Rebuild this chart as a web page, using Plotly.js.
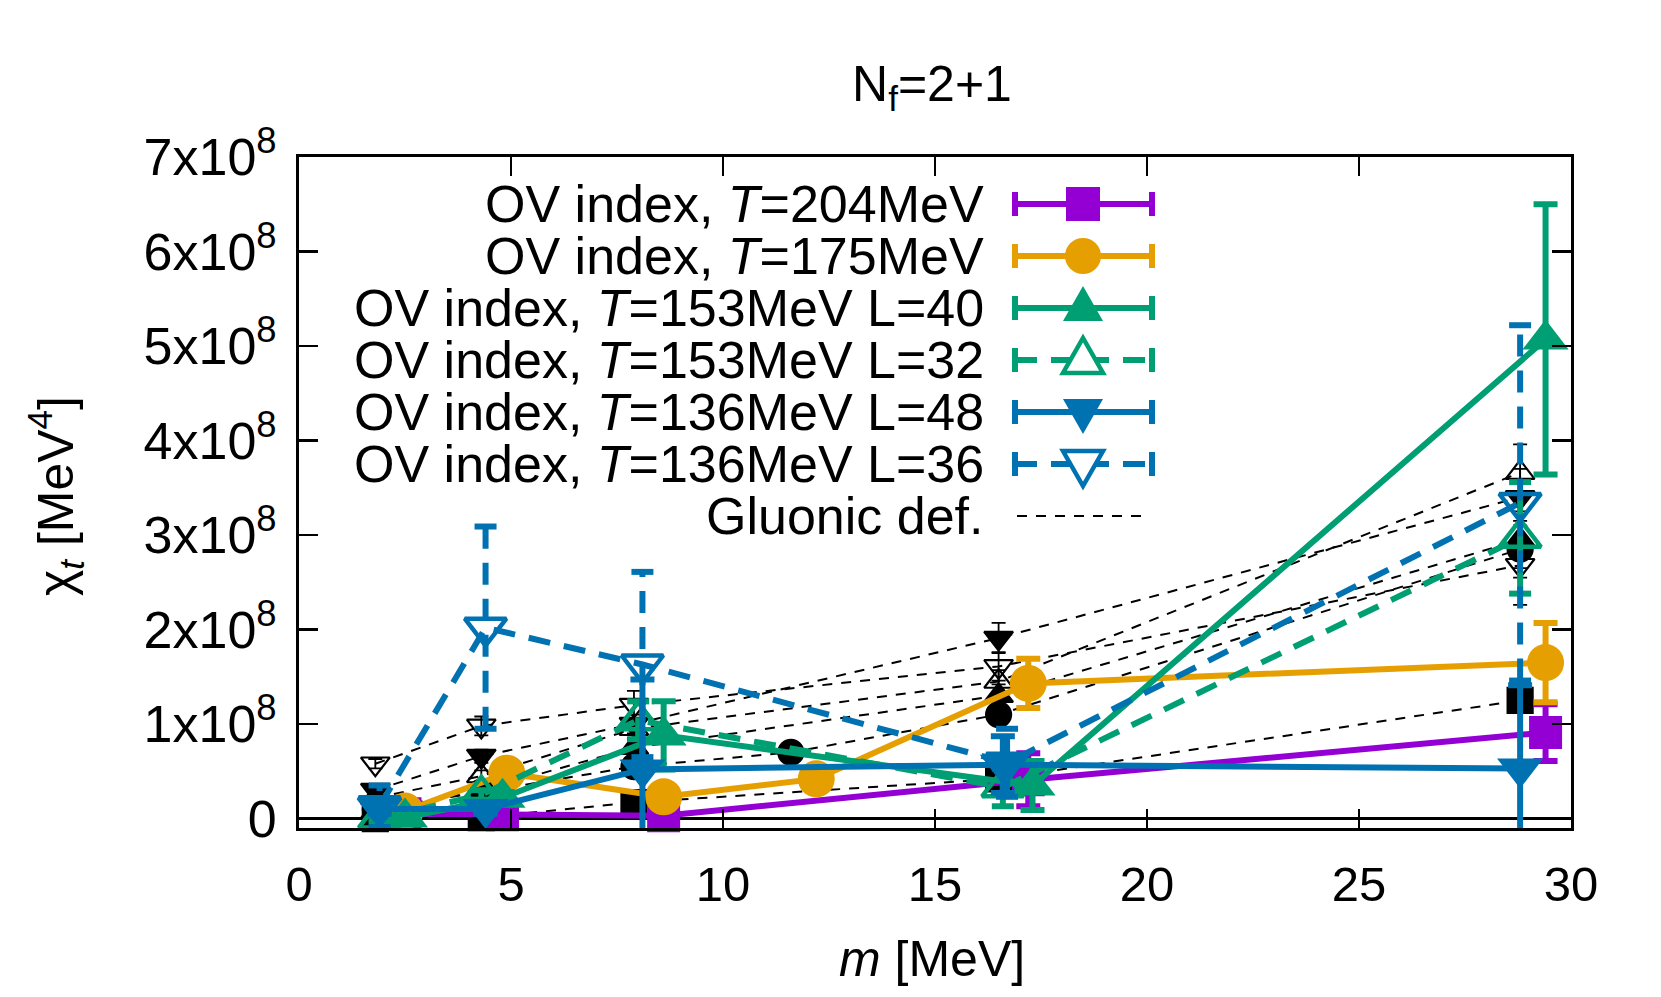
<!DOCTYPE html>
<html><head><meta charset="utf-8">
<script src="https://cdn.plot.ly/plotly-3.0.1.min.js"></script>
<style>html,body{margin:0;padding:0;background:#fff}#chart{width:1661px;height:997px}</style>
</head><body><div id="chart"></div>
<script>
// ---------------- data (chi_t in MeV^4, m in MeV) ----------------
const m204 = [2.5, 4.8, 8.6, 17.2, 29.4];
const chi204 = [0.05e8, 0.04e8, 0.03e8, 0.41e8, 0.91e8];
const err204 = [0.04e8, 0.03e8, 0.04e8, 0.28e8, 0.30e8];

const m175 = [2.5, 4.9, 8.6, 12.2, 17.2, 29.4];
const chi175 = [0.08e8, 0.48e8, 0.23e8, 0.42e8, 1.43e8, 1.65e8];
const err175 = [0.04e8, 0.07e8, 0.05e8, 0.05e8, 0.26e8, 0.42e8];

const m153L40 = [2.5, 4.8, 8.6, 17.3, 29.4];
const chi153L40 = [0.01e8, 0.22e8, 0.88e8, 0.35e8, 5.07e8];
const err153L40 = [0.03e8, 0.06e8, 0.36e8, 0.26e8, 1.43e8];

const m153L32 = [1.9, 4.3, 8.0, 16.6, 28.8];
const chi153L32 = [0.00e8, 0.25e8, 1.04e8, 0.33e8, 2.97e8];
const err153L32 = [0.03e8, 0.05e8, 0.20e8, 0.20e8, 0.59e8];

const m136L48 = [1.9, 4.4, 8.1, 16.6, 28.8];
const chi136L48 = [0.10e8, 0.10e8, 0.52e8, 0.57e8, 0.53e8];
const err136L48 = [0.05e8, 0.05e8, 0.95e8, 0.30e8, 0.88e8];

const m136L36 = [1.9, 4.4, 8.1, 16.7, 28.8];
const chi136L36 = [0.13e8, 2.02e8, 1.63e8, 0.59e8, 3.34e8];
const err136L36 = [0.22e8, 1.07e8, 0.98e8, 0.36e8, 1.88e8];

// gluonic definition
const mGlu = [1.8, 4.3, 7.9, 16.5, 28.8];
const mGlu175 = [1.8, 4.3, 7.9, 11.6, 16.5, 28.8];
const glu204 = [0.00e8, 0.01e8, 0.17e8, 0.42e8, 1.25e8];
const gluErr204 = [0.01e8, 0.02e8, 0.04e8, 0.08e8, 0.12e8];
const glu175 = [0.10e8, 0.28e8, 0.55e8, 0.70e8, 1.10e8, 2.85e8];
const gluErr175 = [0.02e8, 0.04e8, 0.06e8, 0.07e8, 0.10e8, 0.30e8];
const glu153L40 = [0.07e8, 0.30e8, 0.75e8, 1.30e8, 2.95e8];
const gluErr153L40 = [0.02e8, 0.04e8, 0.08e8, 0.12e8, 0.30e8];
const glu153L32 = [0.22e8, 0.45e8, 0.95e8, 1.45e8, 3.66e8];
const gluErr153L32 = [0.03e8, 0.06e8, 0.10e8, 0.12e8, 0.30e8];
const glu136L48 = [0.30e8, 0.66e8, 1.00e8, 1.91e8, 3.40e8];
const gluErr136L48 = [0.03e8, 0.07e8, 0.10e8, 0.16e8, 0.30e8];
const glu136L36 = [0.58e8, 0.98e8, 1.20e8, 1.61e8, 2.68e8];
const gluErr136L36 = [0.05e8, 0.10e8, 0.15e8, 0.15e8, 0.42e8];

const xTicks = [0, 5, 10, 15, 20, 25, 30];
const yTicks = [0, 1e8, 2e8, 3e8, 4e8, 5e8, 6e8, 7e8];
const yTickText = ['0', '1x10<sup>8</sup>', '2x10<sup>8</sup>', '3x10<sup>8</sup>', '4x10<sup>8</sup>',
                   '5x10<sup>8</sup>', '6x10<sup>8</sup>', '7x10<sup>8</sup>'];
const legendLabels = ['OV index, <i>T</i>=204MeV', 'OV index, <i>T</i>=175MeV',
  'OV index, <i>T</i>=153MeV L=40', 'OV index, <i>T</i>=153MeV L=32',
  'OV index, <i>T</i>=136MeV L=48', 'OV index, <i>T</i>=136MeV L=36', 'Gluonic def.'];

// ---------------- styles ----------------
const FONT = 'Liberation Sans, Arial, Helvetica, sans-serif';
const PURPLE = '#9400d3', ORANGE = '#e69f00', GREEN = '#009e73', BLUE = '#0072b2';
const LW = 6, SERIES_DASH = '22px,14px', GLU_DASH = '10px,9px', CAP = 0.26;

const traces = [];

function gluTrace(x, y, e, sym) {
  return {x: x, y: y, type: 'scatter', mode: 'lines+markers', showlegend: false, cliponaxis: false,
    line: {color: 'black', width: 2, dash: GLU_DASH},
    marker: {symbol: sym, size: 25, color: 'black', line: {color: 'black', width: 2.2}},
    error_y: {type: 'data', array: e, visible: true, color: 'black', thickness: 1.8, width: 7}};
}
traces.push(gluTrace(mGlu, glu204, gluErr204, 'square'));
traces.push(gluTrace(mGlu175, glu175, gluErr175, 'circle'));
traces.push(gluTrace(mGlu, glu153L40, gluErr153L40, 'triangle-up'));
traces.push(gluTrace(mGlu, glu153L32, gluErr153L32, 'triangle-up-open'));
traces.push(gluTrace(mGlu, glu136L48, gluErr136L48, 'triangle-down'));
traces.push(gluTrace(mGlu, glu136L36, gluErr136L36, 'triangle-down-open'));

function solidTrace(x, y, e, color, sym, size, clip) {
  return {x: x, y: y, type: 'scatter', mode: 'lines+markers', showlegend: false, cliponaxis: !!clip,
    line: {color: color, width: LW},
    marker: {symbol: sym, size: size, color: color, line: {width: 0}},
    error_y: {type: 'data', array: e, visible: true, color: color, thickness: LW, width: 12}};
}
function dashedErr(x, y, e, color) {
  const X = [], Y = [];
  x.forEach((xi, i) => {
    const lo = y[i] - e[i], hi = y[i] + e[i];
    X.push(xi, xi, null, xi - CAP, xi + CAP, null, xi - CAP, xi + CAP, null);
    Y.push(lo, hi, null, lo, lo, null, hi, hi, null);
  });
  return {x: X, y: Y, type: 'scatter', mode: 'lines', showlegend: false, cliponaxis: false,
    connectgaps: false, hoverinfo: 'skip', line: {color: color, width: LW, dash: SERIES_DASH}};
}
function dashedTrace(x, y, color, sym) {
  return {x: x, y: y, type: 'scatter', mode: 'lines+markers', showlegend: false, cliponaxis: false,
    line: {color: color, width: LW, dash: SERIES_DASH},
    marker: {symbol: sym, size: 36, color: color, line: {color: color, width: 4.5}}};
}

traces.push(solidTrace(m204, chi204, err204, PURPLE, 'square', 33));
traces.push(solidTrace(m175, chi175, err175, ORANGE, 'circle', 37));
traces.push(solidTrace(m153L40, chi153L40, err153L40, GREEN, 'triangle-up', 40));
traces.push(dashedErr(m153L32, chi153L32, err153L32, GREEN));
traces.push(dashedTrace(m153L32, chi153L32, GREEN, 'triangle-up-open'));
traces.push(solidTrace(m136L48, chi136L48, err136L48, BLUE, 'triangle-down', 40, true));
traces.push(dashedErr(m136L36, chi136L36, err136L36, BLUE));
traces.push(dashedTrace(m136L36, chi136L36, BLUE, 'triangle-down-open'));

// ---------------- custom legend (text right-aligned, symbol on the right) ----------------
const PL = 299, PR = 1571, PT = 157, PB = 828;
const px = p => (p - PL) / (PR - PL);
const py = p => (PB - p) / (PB - PT);
const legStyle = [
  {color: PURPLE, dash: 'solid', sym: 'square'},
  {color: ORANGE, dash: 'solid', sym: 'circle'},
  {color: GREEN, dash: 'solid', sym: 'tri-up'},
  {color: GREEN, dash: SERIES_DASH, sym: 'tri-up-open'},
  {color: BLUE, dash: 'solid', sym: 'tri-down'},
  {color: BLUE, dash: SERIES_DASH, sym: 'tri-down-open'},
  {color: 'black', dash: GLU_DASH, sym: null}
];
const shapes = [], annotations = [];
legendLabels.forEach((lab, i) => {
  const rowY = 204 + 52 * i;
  const st = legStyle[i];
  annotations.push({text: lab, xref: 'paper', yref: 'paper', x: px(986), y: py(rowY),
    xanchor: 'right', yanchor: 'middle', showarrow: false, font: {family: FONT, size: 52, color: 'black'}});
  if (!st.sym) {
    shapes.push({type: 'line', xref: 'paper', yref: 'paper', x0: px(1017), x1: px(1150), y0: py(rowY), y1: py(rowY),
      line: {color: 'black', width: 2, dash: GLU_DASH}});
    return;
  }
  shapes.push({type: 'line', xref: 'paper', yref: 'paper', x0: px(1015), x1: px(1152), y0: py(rowY), y1: py(rowY),
    line: {color: st.color, width: LW, dash: st.dash}});
  [1015, 1152].forEach(cx => shapes.push({type: 'line', xref: 'paper', yref: 'paper',
    x0: px(cx), x1: px(cx), y0: py(rowY - 12), y1: py(rowY + 12), line: {color: st.color, width: LW}}));
  const base = {xref: 'paper', yref: 'paper', xsizemode: 'pixel', ysizemode: 'pixel',
    xanchor: px(1083), yanchor: py(rowY)};
  if (st.sym === 'square') shapes.push(Object.assign({type: 'rect', x0: -17, x1: 17, y0: -17, y1: 17,
    fillcolor: st.color, line: {width: 0}}, base));
  else if (st.sym === 'circle') shapes.push(Object.assign({type: 'circle', x0: -18, x1: 18, y0: -18, y1: 18,
    fillcolor: st.color, line: {width: 0}}, base));
  else {
    const up = st.sym.indexOf('up') >= 0, open = st.sym.indexOf('open') >= 0;
    const path = up ? 'M-20,-13 L20,-13 L0,22 Z' : 'M-20,13 L20,13 L0,-22 Z';
    shapes.push(Object.assign({type: 'path', path: path,
      fillcolor: open ? 'white' : st.color, line: {color: st.color, width: open ? 4.5 : 0}}, base));
  }
});

annotations.push({text: '<i>m</i> [MeV]', xref: 'paper', yref: 'paper', x: px(932), y: py(959),
  xanchor: 'center', yanchor: 'middle', showarrow: false, font: {family: FONT, size: 50, color: 'black'}});
annotations.push({text: 'χ<sub><i>t</i></sub> [MeV<sup>4</sup>]', xref: 'paper', yref: 'paper', x: px(56), y: py(496),
  xanchor: 'center', yanchor: 'middle', textangle: -90, showarrow: false,
  font: {family: FONT, size: 50, color: 'black'}});

const axisCommon = {showgrid: false, showline: true, linecolor: 'black', linewidth: 3, mirror: 'ticks',
  ticks: 'inside', ticklen: 19, tickwidth: 2.5, tickcolor: 'black'};

const layout = {
  width: 1661, height: 997, paper_bgcolor: 'white', plot_bgcolor: 'white',
  margin: {l: PL, r: 1661 - PR, t: PT, b: 997 - PB, pad: 0},
  showlegend: false,
  title: {text: 'N<sub>f</sub>=2+1', x: 932 / 1661, y: 1 - 83 / 997, xanchor: 'center', yanchor: 'middle',
    font: {family: FONT, size: 50, color: 'black'}},
  xaxis: Object.assign({}, axisCommon, {range: [0, 30], tickvals: xTicks, zeroline: false, ticklabelstandoff: 11,
    tickfont: {family: FONT, size: 49, color: 'black'}}),
  yaxis: Object.assign({}, axisCommon, {range: [-0.1e8, 7e8], tickvals: yTicks, ticktext: yTickText,
    zeroline: true, zerolinecolor: 'black', zerolinewidth: 2.5, ticklabelstandoff: 9,
    tickfont: {family: FONT, size: 52, color: 'black'}}),
  shapes: shapes, annotations: annotations
};

Plotly.newPlot('chart', traces, layout, {displayModeBar: false, staticPlot: true});
</script></body></html>
